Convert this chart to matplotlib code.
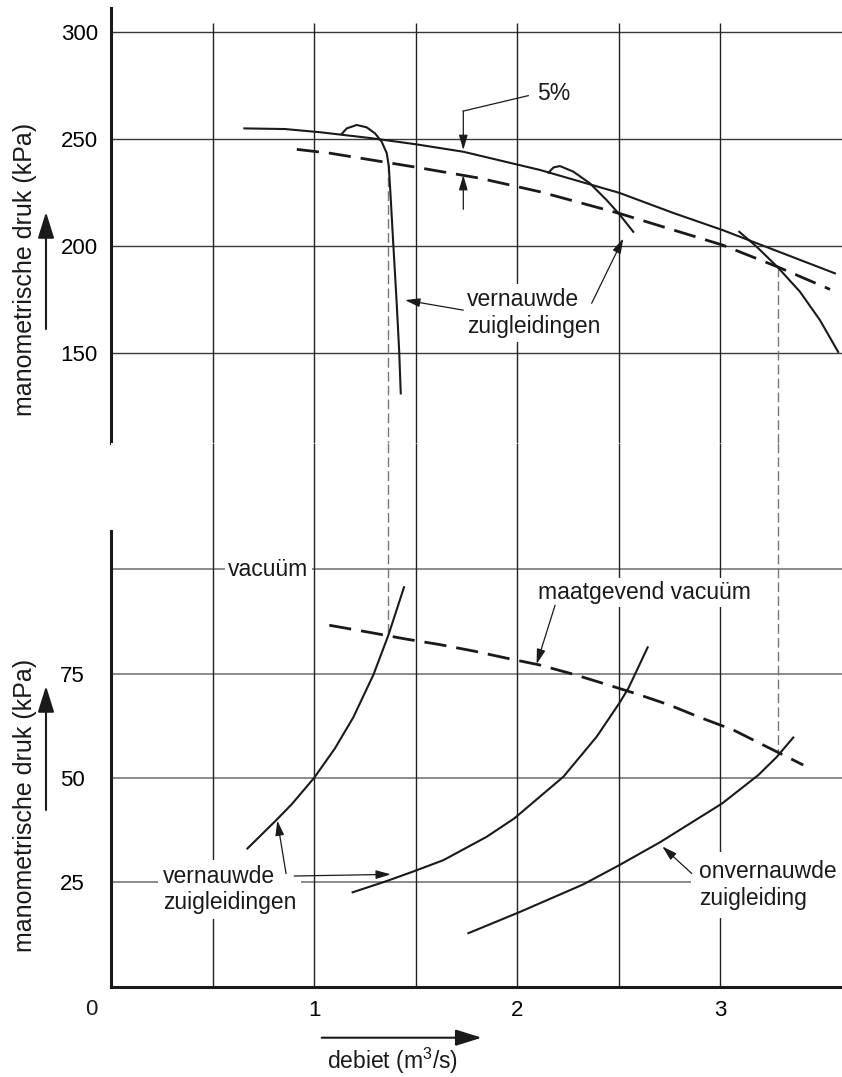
import matplotlib.pyplot as plt

plt.rcParams['font.family'] = ['Liberation Sans', 'DejaVu Sans']
plt.rcParams['mathtext.fontset'] = 'custom'
plt.rcParams['mathtext.rm'] = 'Liberation Sans'
plt.rcParams['mathtext.default'] = 'regular'

# debiet (m3/s) against manometrische druk (kPa)
pump_q = [0.657, 0.857, 1.03, 1.276, 1.5, 1.735, 2.112, 2.503, 2.769, 3.012, 3.565]
pump_h = [255.1, 254.8, 253.3, 250.6, 247.7, 244.2, 235.7, 225.0, 215.6, 207.6, 187.4]

pump5_q = [0.915, 1.079, 1.5, 1.818, 2.112, 2.503, 3.012, 3.281, 3.541]
pump5_h = [245.3, 243.5, 237.0, 231.8, 225.5, 215.4, 200.6, 190.5, 179.9]

narrow1_q = [1.136, 1.161, 1.21, 1.259, 1.3, 1.333, 1.358, 1.368, 1.376, 1.39, 1.407, 1.419, 1.427]
narrow1_h = [252.5, 255.1, 256.7, 255.6, 252.8, 248.9, 243.5, 237.5, 225.0, 201.4, 173.4, 151.5, 131.3]

narrow2_q = [2.154, 2.18, 2.211, 2.277, 2.359, 2.441, 2.507, 2.572]
narrow2_h = [234.4, 236.9, 237.5, 234.9, 229.4, 221.6, 214.6, 206.8]

open_q = [3.094, 3.18, 3.281, 3.393, 3.491, 3.581]
open_h = [206.8, 199.8, 190.5, 178.8, 165.6, 150.7]

# lower part: vacuum
vacA_q = [0.672, 0.816, 0.89, 1.0, 1.103, 1.193, 1.292, 1.366, 1.443]
vacA_h = [33.1, 40.0, 43.7, 50.0, 57.1, 64.5, 74.7, 84.2, 95.7]

vacB_q = [1.19, 1.358, 1.484, 1.637, 1.85, 1.986, 2.228, 2.392, 2.503, 2.548, 2.643]
vacB_h = [22.6, 25.3, 27.5, 30.3, 35.9, 40.3, 50.3, 59.9, 67.9, 71.5, 81.3]

vacC_q = [1.76, 2.014, 2.326, 2.503, 2.704, 3.01, 3.188, 3.278, 3.36]
vacC_h = [12.8, 17.9, 24.5, 29.1, 34.6, 43.9, 50.7, 55.0, 59.7]

vacmax_q = [1.075, 1.295, 1.451, 1.615, 1.788, 1.949, 2.109, 2.274, 2.428, 2.592,
            2.749, 2.901, 3.065, 3.212, 3.36, 3.409]
vacmax_h = [86.6, 84.7, 83.3, 82.0, 80.4, 78.7, 77.1, 74.9, 72.6, 70.1,
            67.5, 64.5, 61.5, 57.9, 54.3, 53.1]

# operating points (dropped lines)
drop_q = [1.363, 3.283]
drop_top = [238.8, 190.5]
drop_bot = [84.3, 56.5]

upper_ticks = [150, 200, 250, 300]
lower_ticks = [25, 50, 75]
lower_grid = [25, 50, 75, 100]
x_ticks = [1, 2, 3]
x_grid = [0.5, 1, 1.5, 2, 2.5, 3]

INK = '#1a1a1a'
FS = 16.5

fig = plt.figure(figsize=(8.42, 10.77), dpi=100)
ax_top = fig.add_axes([111 / 842, 633.7 / 1077, 731 / 842, 435 / 1077])
ax_bot = fig.add_axes([111 / 842, 90.4 / 1077, 731 / 842, 543.3 / 1077])

top_lim = (108.0, 311.2)
bot_lim = (0, 130.2)
for ax, lim in ((ax_top, top_lim), (ax_bot, bot_lim)):
    ax.set_xlim(0, 3.6)
    ax.set_ylim(*lim)
    ax.spines['top'].set_visible(False)
    ax.spines['right'].set_visible(False)
    ax.spines['left'].set_linewidth(2.2)
    ax.spines['left'].set_color(INK)
    ax.spines['bottom'].set_linewidth(2.2)
    ax.spines['bottom'].set_color(INK)

ax_top.spines['bottom'].set_visible(False)
ax_top.set_xticks([])
ax_top.set_yticks(upper_ticks, [str(t) for t in upper_ticks])
ax_top.tick_params(axis='y', length=0, pad=9.5, labelsize=16)

ax_bot.spines['left'].set_bounds(0, 109.2)
ax_bot.set_yticks(lower_ticks, [str(t) for t in lower_ticks])
ax_bot.tick_params(axis='y', length=0, pad=19, labelsize=16)
ax_bot.set_xticks(x_ticks, [str(t) for t in x_ticks])
ax_bot.tick_params(axis='x', length=0, pad=10, labelsize=16)

# grid
ax_top.hlines(upper_ticks, 0, 3.6, color='#3a3a3a', lw=1.0, zorder=1)
ax_top.vlines(x_grid, top_lim[0], 304.2, color='#222222', lw=1.0, zorder=1)
ax_bot.hlines(lower_grid, 0, 3.6, color='#777777', lw=1.2, zorder=1)
ax_bot.vlines(x_grid, 0, bot_lim[1], color='#222222', lw=1.0, zorder=1)

# curves
dash = (8, 3.6)
ax_top.plot(pump_q, pump_h, color=INK, lw=1.5, zorder=3)
ax_top.plot(pump5_q, pump5_h, color=INK, lw=2.0, dashes=dash, zorder=3)
ax_top.plot(narrow1_q, narrow1_h, color=INK, lw=1.5, zorder=3)
ax_top.plot(narrow2_q, narrow2_h, color=INK, lw=1.5, zorder=3)
ax_top.plot(open_q, open_h, color=INK, lw=1.5, zorder=3)

ax_bot.plot(vacA_q, vacA_h, color=INK, lw=1.5, zorder=3)
ax_bot.plot(vacB_q, vacB_h, color=INK, lw=1.5, zorder=3)
ax_bot.plot(vacC_q, vacC_h, color=INK, lw=1.5, zorder=3)
ax_bot.plot(vacmax_q, vacmax_h, color=INK, lw=2.0, dashes=dash, zorder=3)

for q, ht, hb in zip(drop_q, drop_top, drop_bot):
    ax_top.plot([q, q], [ht, top_lim[0]], color='#777777', lw=1.0, dashes=(7, 3), zorder=2)
    ax_bot.plot([q, q], [bot_lim[1], hb], color='#777777', lw=1.0, dashes=(7, 3), zorder=2)


def leader(ax, start, tip):
    ax.annotate('', xy=tip, xytext=start,
                arrowprops=dict(arrowstyle='-|>,head_length=0.75,head_width=0.22',
                                color=INK, lw=0.9, shrinkA=0, shrinkB=0,
                                mutation_scale=12),
                zorder=6, annotation_clip=False)


def label(ax, x, y, s, pad=0.2, ha='left'):
    ax.text(x, y, s, fontsize=FS, color=INK, ha=ha, va='center', linespacing=1.2,
            zorder=5, bbox=dict(boxstyle='square,pad=%s' % pad, fc='white', ec='none'))


# upper annotations
ax_top.plot([2.055, 1.735], [270.4, 263.2], color=INK, lw=0.9, zorder=6)
leader(ax_top, (1.735, 263.2), (1.735, 245.0))
leader(ax_top, (1.735, 217.3), (1.735, 233.3))
ax_top.text(2.097, 271.5, '5%', fontsize=FS, color=INK, va='center', zorder=5)

label(ax_top, 1.752, 168.9, 'vernauwde\nzuigleidingen')
leader(ax_top, (1.735, 170.2), (1.448, 174.9))
leader(ax_top, (2.367, 173.4), (2.523, 203.7))

# lower annotations
label(ax_bot, 0.7735, 100.0, 'vacuüm', pad=0.15, ha='center')
label(ax_bot, 2.104, 94.5, 'maatgevend vacuüm', pad=0.12)
leader(ax_bot, (2.187, 91.4), (2.096, 77.3))

label(ax_bot, 0.255, 23.3, 'vernauwde\nzuigleidingen', pad=0.2)
leader(ax_bot, (0.862, 27.1), (0.819, 39.8))
leader(ax_bot, (0.902, 26.5), (1.378, 26.9))

label(ax_bot, 2.897, 24.3, 'onvernauwde\nzuigleiding', pad=0.35)
leader(ax_bot, (2.860, 27.1), (2.715, 33.6))

ax_bot.text(-0.0945, -5.6, '0', fontsize=16, color=INK, ha='center', va='center',
            clip_on=False)

# axis titles with their arrows
fig.text(25 / 842, 1 - 269 / 1077, 'manometrische druk (kPa)', rotation=90,
         fontsize=18, color=INK, ha='center', va='center')
fig.text(25 / 842, 1 - 805 / 1077, 'manometrische druk (kPa)', rotation=90,
         fontsize=18, color=INK, ha='center', va='center')
fig.text(326.7 / 842, 7.7 / 1077, 'debiet (m$^{3}$/s)', fontsize=FS, color=INK,
         ha='left', va='baseline')

big = dict(arrowstyle='-|>,head_length=0.8,head_width=0.25', color=INK, lw=1.5,
           shrinkA=0, shrinkB=0, mutation_scale=20)
for tail, tip in (((46, 1077 - 329), (46, 1077 - 212)),
                  ((46, 1077 - 810), (46, 1077 - 686)),
                  ((321.7, 1077 - 1037.7), (481.7, 1077 - 1037.7))):
    ax_bot.annotate('', xy=tip, xycoords='figure pixels', xytext=tail,
                    textcoords='figure pixels', arrowprops=big, annotation_clip=False)

fig.savefig('out.png', dpi=100)
